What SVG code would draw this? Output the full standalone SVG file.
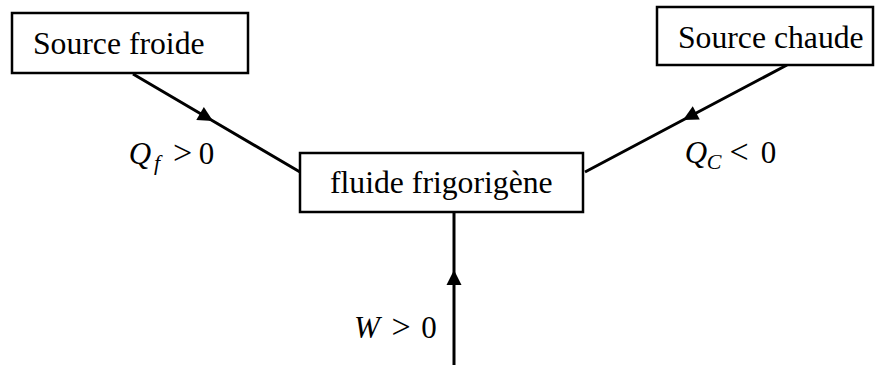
<svg xmlns="http://www.w3.org/2000/svg" width="880" height="365" viewBox="0 0 880 365">
<style>
.box{fill:#fff;stroke:#000;stroke-width:2.5}
text{font-family:'Liberation Serif','DejaVu Serif','Times New Roman',serif;fill:#000}
.lbl{font-size:31.7px}
.m{font-size:31px;text-anchor:middle}
.mi{font-style:italic}
.sub{font-size:22px}
.op{font-size:34px}
.con{fill:none;stroke:#000;stroke-width:3;marker-mid:url(#ah)}
</style>
<defs>
<marker id="ah" markerUnits="userSpaceOnUse" markerWidth="20" markerHeight="20" viewBox="-16 -10 20 20" refX="0" refY="0" orient="auto">
<path d="M0,0 L-15,-7.5 L-15,7.5 Z" fill="#000"/>
</marker>
</defs>
<g id="connectors">
<path class="con" d="M133,74 L213,121 L300,172"/>
<path class="con" d="M787,65 L683,120 L585,172"/>
<path class="con" d="M454,365 L454,270 L454,212"/>
</g>
<g id="source-froide">
<rect class="box" x="12" y="13" width="236" height="60"/>
<text class="lbl" x="33" y="54">Source froide</text>
</g>
<g id="source-chaude">
<rect class="box" x="657" y="7" width="216" height="58"/>
<text class="lbl" x="678" y="48">Source chaude</text>
</g>
<g id="fluide">
<rect class="box" x="300" y="153" width="283" height="59"/>
<text class="lbl" x="330" y="193">fluide frigorigène</text>
</g>
<g id="labels">
<text class="m" x="140" y="164"><tspan class="mi">Q</tspan><tspan class="mi sub" x="157" y="170">f</tspan><tspan class="op" x="182.5" y="164">&gt;</tspan><tspan x="206.5">0</tspan></text>
<text class="m" x="696" y="163"><tspan class="mi">Q</tspan><tspan class="mi sub" x="714" y="169">C</tspan><tspan class="op" x="739" y="163">&lt;</tspan><tspan x="768.5">0</tspan></text>
<text class="m" x="367" y="338"><tspan class="mi">W</tspan><tspan class="op" x="401">&gt;</tspan><tspan x="429">0</tspan></text>
</g>
</svg>
